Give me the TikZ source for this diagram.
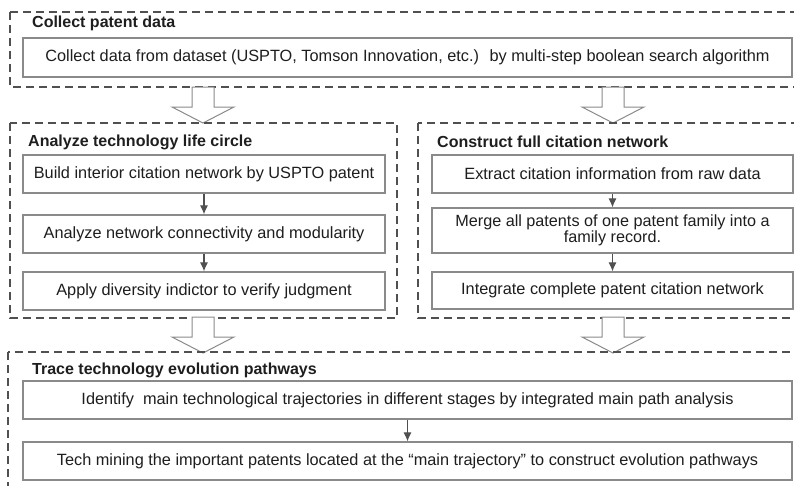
\documentclass[tikz,border=0pt]{standalone}
\usepackage{fontspec}
\setmainfont{Liberation Sans}
\usetikzlibrary{positioning}

\definecolor{framegray}{HTML}{505050}
\definecolor{boxgray}{HTML}{8A8A8A}
\definecolor{inkgray}{HTML}{1E1E1E}

\tikzset{
  stagebox/.style={draw=framegray, line width=1.2pt, dash pattern=on 8pt off 5pt},
  stagetitle/.style={anchor=west, inner sep=0pt, font=\bfseries\fontsize{16}{18}\selectfont},
  taskbox/.style={draw=boxgray, line width=1.2pt, fill=white, align=center,
                  inner sep=2pt, font=\fontsize{16.3}{17}\selectfont},
  flow/.style={draw=framegray, line width=1.1pt, -{Latex[length=9pt,width=8pt]}},
  hollow arrow/.pic={
    \filldraw[draw=boxgray, fill=white, line width=1pt]
      (-11,0) -- (11,0) -- (11,20) -- (31,20) -- (0,36) -- (-31,20) -- (-11,20) -- cycle;
  }
}
\usetikzlibrary{arrows.meta}

\begin{document}
\begin{tikzpicture}[x=1pt, y=-1pt, text=inkgray]
\useasboundingbox (0,0) rectangle (794,485);

% stage 1
\draw[stagebox] (10,12) rectangle (810,87);
\node[stagetitle] (collectT) at (32,23) {Collect patent data};
\node[taskbox, minimum width=769, minimum height=39] (collect) at (407.5,57.5)
  {Collect data from dataset (USPTO, Tomson Innovation, etc.)~ by multi-step boolean search algorithm};

\pic at (203,87) {hollow arrow};
\pic at (613,87) {hollow arrow};

% stage 2, left branch
\draw[stagebox] (10,123) rectangle (397,318);
\node[stagetitle] (lifeT) at (28,142) {Analyze technology life circle};
\node[taskbox, minimum width=362, minimum height=38] (life1) at (204,174)
  {Build interior citation network by USPTO patent};
\node[taskbox, minimum width=362, minimum height=38] (life2) at (204,234)
  {Analyze network connectivity and modularity};
\node[taskbox, minimum width=362, minimum height=38] (life3) at (204,291)
  {Apply diversity indictor to verify judgment};
\draw[flow] (life1) -- (life2);
\draw[flow] (life2) -- (life3);

% stage 2, right branch
\draw[stagebox] (418,123) rectangle (810,318);
\node[stagetitle] (citeT) at (437,142) {Construct full citation network};
\node[taskbox, minimum width=361, minimum height=38] (cite1) at (612.5,174)
  {Extract citation information from raw data};
\node[taskbox, minimum width=361, minimum height=45, inner sep=1pt,
      font=\fontsize{16.2}{16}\selectfont] (cite2) at (612.5,230.5)
  {Merge all patents of one patent family into a\\ family record.};
\node[taskbox, minimum width=361, minimum height=37] (cite3) at (612.5,290.5)
  {Integrate complete patent citation network};
\draw[flow] (cite1) -- (cite2);
\draw[flow] (cite2) -- (cite3);

\pic at (203,317) {hollow arrow};
\pic at (613,317) {hollow arrow};

% stage 3
\draw[stagebox] (8,352) rectangle (810,500);
\node[stagetitle] (traceT) at (32,370) {Trace technology evolution pathways};
\node[taskbox, minimum width=769, minimum height=38] (trace1) at (407.5,400)
  {Identify~~main technological trajectories in different stages by integrated main path analysis};
\node[taskbox, minimum width=769, minimum height=38] (trace2) at (407.5,461)
  {Tech mining the important patents located at the “main trajectory” to construct evolution pathways};
\draw[flow] (trace1) -- (trace2);
\end{tikzpicture}
\end{document}
